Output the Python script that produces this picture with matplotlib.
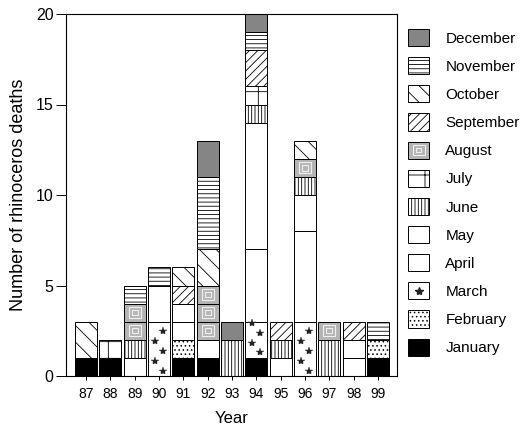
import matplotlib
matplotlib.use("Agg")
import matplotlib.pyplot as plt
import numpy as np
from matplotlib.patches import Patch, Rectangle
from matplotlib.lines import Line2D
from matplotlib.legend_handler import HandlerBase

plt.rcParams['font.family'] = ['Liberation Sans', 'DejaVu Sans']
plt.rcParams['hatch.linewidth'] = 0.6

years = ['87', '88', '89', '90', '91', '92', '93', '94', '95', '96', '97', '98', '99']
months = ['January', 'February', 'March', 'April', 'May', 'June',
          'July', 'August', 'September', 'October', 'November', 'December']

jan = [1, 1, 0, 0, 1, 1, 0, 1, 0, 0, 0, 0, 1]
feb = [0, 0, 0, 0, 1, 0, 0, 0, 0, 0, 0, 0, 1]
mar = [0, 0, 0, 3, 0, 0, 0, 2, 0, 3, 0, 0, 0]
apr = [0, 0, 1, 2, 1, 1, 0, 4, 1, 5, 0, 1, 0]
may = [0, 0, 0, 0, 1, 0, 0, 7, 0, 2, 0, 1, 0]
jun = [0, 0, 1, 0, 0, 0, 2, 1, 1, 1, 2, 0, 0]
jul = [0, 1, 0, 0, 0, 0, 0, 1, 0, 0, 0, 0, 0]
aug = [0, 0, 2, 0, 0, 3, 0, 0, 0, 1, 1, 0, 0]
sep = [0, 0, 0, 0, 1, 0, 0, 2, 1, 0, 0, 1, 0]
octo = [2, 0, 0, 0, 1, 2, 0, 0, 0, 1, 0, 0, 0]
nov = [0, 0, 1, 1, 0, 4, 0, 1, 0, 0, 0, 0, 1]
dec = [0, 0, 0, 0, 0, 2, 1, 1, 0, 0, 0, 0, 0]

series = [jan, feb, mar, apr, may, jun, jul, aug, sep, octo, nov, dec]

styles = {
    'January':   dict(facecolor='black', hatch=None),
    'February':  dict(facecolor='white', hatch='....'),
    'March':     dict(facecolor='white', hatch=None),
    'April':     dict(facecolor='white', hatch=None),
    'May':       dict(facecolor='white', hatch=None),
    'June':      dict(facecolor='white', hatch='|||||'),
    'July':      dict(facecolor='white', hatch='+'),
    'August':    dict(facecolor='#b4b4b4', hatch=None),
    'September': dict(facecolor='white', hatch='////'),
    'October':   dict(facecolor='white', hatch='\\\\'),
    'November':  dict(facecolor='white', hatch='----'),
    'December':  dict(facecolor='#858585', hatch=None),
}

fig = plt.figure(figsize=(5.21, 4.28), dpi=100)
ax = fig.add_axes([66/521, 1-376/428, (397-66)/521, (376-14)/428])

x = np.arange(len(years))
width = 0.9
bottom = np.zeros(len(years))
for m, vals in zip(months, series):
    vals = np.array(vals, dtype=float)
    st = styles[m]
    if m == 'August':
        for i in range(len(years)):
            for k in range(int(vals[i])):
                b = bottom[i] + k
                ax.bar(x[i], 1, bottom=b, width=width, facecolor=st['facecolor'],
                       edgecolor='black', linewidth=0.7)
                ax.bar(x[i], 0.6, bottom=b + 0.2, width=width * 0.55, facecolor='none',
                       edgecolor='#f0f0f0', linewidth=0.8)
                ax.bar(x[i], 0.3, bottom=b + 0.35, width=width * 0.28, facecolor='none',
                       edgecolor='#f0f0f0', linewidth=0.8)
    else:
        mask = vals > 0
        ax.bar(x[mask], vals[mask], bottom=bottom[mask], width=width,
               facecolor=st['facecolor'], hatch=st['hatch'],
               edgecolor='black', linewidth=0.7)
        if m == 'March':
            for i in np.where(mask)[0]:
                n = int(vals[i])
                offs = np.arange(0.3, n, 0.55)
                sx = x[i] + np.where(np.arange(len(offs)) % 2 == 0, 0.17, -0.17)
                ax.plot(sx, bottom[i] + offs, linestyle='none', marker='*',
                        markersize=6, color='#222222', markeredgewidth=0.3)
    bottom += vals

ax.set_xlim(-0.82, len(years) - 1 + 0.78)
ax.set_ylim(0, 20)
ax.set_yticks([0, 5, 10, 15, 20])
ax.set_xticks(x)
ax.set_xticklabels(years, fontsize=10)
ax.tick_params(axis='y', direction='out', length=7, width=0.7, labelsize=11.5, pad=2)
ax.tick_params(axis='x', direction='out', length=3, width=0.7, pad=5)
for s in ax.spines.values():
    s.set_linewidth(0.8)
ax.set_ylabel('Number of rhinoceros deaths', fontsize=13, labelpad=6)
ax.set_xlabel('Year', fontsize=12, labelpad=7)


class AugustHandler(HandlerBase):
    def create_artists(self, legend, orig_handle, xdescent, ydescent, width, height, fontsize, trans):
        r1 = Rectangle((-xdescent, -ydescent), width, height, facecolor='#b4b4b4',
                       edgecolor='black', linewidth=0.7, transform=trans)
        r2 = Rectangle((-xdescent + width * 0.22, -ydescent + height * 0.22), width * 0.56, height * 0.56,
                       facecolor='none', edgecolor='#f0f0f0', linewidth=0.8, transform=trans)
        r3 = Rectangle((-xdescent + width * 0.38, -ydescent + height * 0.38), width * 0.24, height * 0.24,
                       facecolor='none', edgecolor='#f0f0f0', linewidth=0.8, transform=trans)
        return [r1, r2, r3]


class MarchHandler(HandlerBase):
    def create_artists(self, legend, orig_handle, xdescent, ydescent, width, height, fontsize, trans):
        r1 = Rectangle((-xdescent, -ydescent), width, height, facecolor='white',
                       edgecolor='black', linewidth=0.7, transform=trans)
        s = Line2D([-xdescent + width / 2], [-ydescent + height / 2], linestyle='none',
                   marker='*', markersize=6, color='#222222', transform=trans)
        return [r1, s]


handles = []
labels = []
handler_map = {}
for m in reversed(months):
    st = styles[m]
    h = Patch(facecolor=st['facecolor'], hatch=st['hatch'], edgecolor='black', linewidth=0.7)
    if m == 'August':
        handler_map[h] = AugustHandler()
    if m == 'March':
        handler_map[h] = MarchHandler()
    handles.append(h)
    labels.append(m)

fig.legend(handles, labels, loc='upper left', bbox_to_anchor=(408/521, 1 - 29/428),
           frameon=False, fontsize=11, handlelength=1.4, handleheight=1.35,
           labelspacing=0.72, handletextpad=1.05, borderpad=0, borderaxespad=0,
           handler_map=handler_map)

fig.savefig('out.png', dpi=100)
